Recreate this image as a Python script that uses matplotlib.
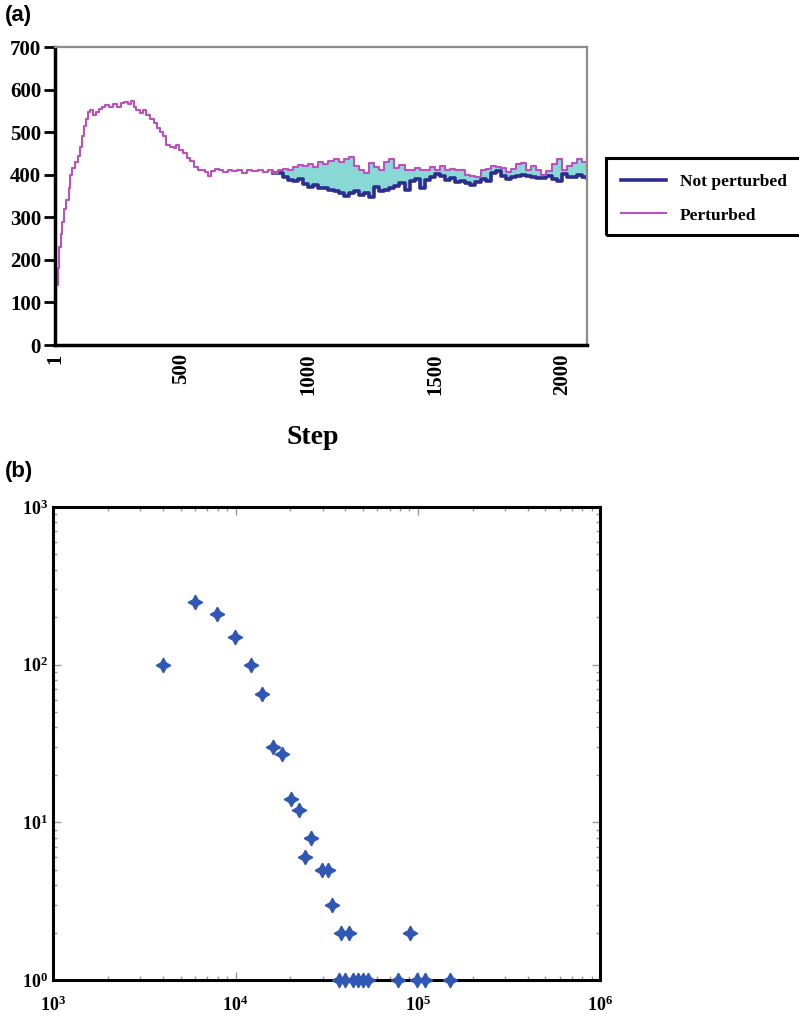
import numpy as np
import matplotlib.pyplot as plt
from matplotlib.patches import Rectangle
from matplotlib.ticker import FuncFormatter, LogLocator, NullFormatter

plt.rcParams['mathtext.fontset'] = 'custom'
plt.rcParams['mathtext.rm'] = 'Liberation Serif:bold'
plt.rcParams['mathtext.bf'] = 'Liberation Serif:bold'
plt.rcParams['mathtext.it'] = 'Liberation Serif:bold'

# (a) value per step; both runs share the same path until the perturbation
steps_early = [1, 6, 12, 18, 24, 30, 36, 45, 55, 62, 70, 80, 90, 100, 108, 116,
               124, 132, 140, 150, 162, 175, 188, 200, 215, 230, 245, 260, 275,
               290, 300, 312, 322, 335, 348, 360, 375, 390, 402, 415, 428, 440,
               455, 470, 480, 490, 505, 520, 535, 550, 565, 578, 592, 605, 618,
               632, 648, 665, 682, 700, 720, 740, 760, 780, 800, 820, 840, 860]
values_early = [90, 140, 180, 230, 260, 290, 320, 340, 370, 400, 415, 430, 445,
                465, 490, 515, 530, 548, 552, 540, 548, 555, 558, 563, 560, 565,
                560, 568, 572, 566, 574, 560, 552, 545, 552, 540, 530, 522, 510,
                500, 490, 470, 465, 462, 470, 458, 450, 440, 432, 418, 410, 412,
                406, 398, 408, 414, 410, 406, 412, 408, 410, 405, 410, 408, 412,
                406, 410, 404]

steps_late = [880, 900, 920, 940, 960, 980, 1000, 1020, 1040, 1060, 1080, 1100,
              1120, 1140, 1160, 1180, 1200, 1220, 1240, 1260, 1280, 1300, 1320,
              1340, 1360, 1380, 1400, 1420, 1440, 1460, 1480, 1500, 1520, 1540,
              1560, 1580, 1600, 1620, 1640, 1660, 1680, 1700, 1720, 1740, 1760,
              1780, 1800, 1820, 1840, 1860, 1880, 1900, 1920, 1940, 1960, 1980,
              2000, 2020, 2040, 2060, 2080, 2100]
perturbed_late = [410, 414, 412, 418, 422, 420, 426, 418, 430, 425, 432, 436,
                  430, 438, 442, 420, 412, 405, 428, 418, 410, 430, 438, 415,
                  422, 410, 412, 415, 410, 412, 418, 410, 420, 412, 414, 410,
                  412, 400, 398, 395, 412, 414, 420, 418, 415, 406, 414, 425,
                  428, 410, 420, 412, 400, 408, 425, 438, 412, 420, 428, 438,
                  430, 420]
not_perturbed_late = [405, 395, 388, 385, 390, 378, 372, 375, 368, 370, 365,
                      362, 358, 350, 356, 362, 352, 358, 348, 372, 362, 365,
                      368, 374, 380, 365, 385, 390, 370, 388, 395, 402, 396,
                      388, 392, 384, 386, 380, 376, 384, 390, 386, 404, 408,
                      398, 390, 394, 396, 400, 396, 394, 392, 392, 398, 390,
                      386, 402, 395, 394, 400, 394, 392]

step_ticks = [1, 500, 1000, 1500, 2000]

# (b) count per size, log-log
sizes = [4000, 6000, 7950, 9930, 12100, 14000, 16100, 17950, 20100, 22300,
         25900, 23900, 29700, 32100, 34000, 37900, 41800, 90600,
         36800, 39900, 44300, 47200, 50300, 53600, 78300, 98900, 109700, 150000]
counts = [100, 250, 210, 150, 100, 65, 30, 27, 14, 12,
          8, 6, 5, 5, 3, 2, 2, 2,
          1, 1, 1, 1, 1, 1, 1, 1, 1, 1]

SERIF = 'Liberation Serif'
C_NOT = '#2E2C8E'
C_PERT = '#BE4FBE'
C_FILL = '#88D8D6'

fig = plt.figure(figsize=(7.99, 10.18), dpi=100)

# ---- panel (a)
ax1 = fig.add_axes([0.0688, 0.6611, 0.6659, 0.2927])
steps = np.array(steps_early + steps_late)
pert = np.array(values_early + perturbed_late)
notp = np.array(values_early + not_perturbed_late)
# the unperturbed run only shows once the two paths split
split = len(steps_early) - 1

ax1.fill_between(steps, notp, pert, step='post', color=C_FILL, lw=0)
l_not, = ax1.step(steps[split:], notp[split:], where='post', color=C_NOT,
                  lw=2.6, label='Not perturbed')
l_pert, = ax1.step(steps, pert, where='post', color=C_PERT, lw=1.5,
                   label='Perturbed')

ax1.set_xlim(1, 2100)
ax1.set_ylim(0, 700)
ax1.set_yticks(range(0, 701, 100))
ax1.set_xticks(step_ticks)
ax1.set_xticklabels([str(s) for s in step_ticks], rotation=90)
for lab in ax1.get_xticklabels() + ax1.get_yticklabels():
    lab.set_fontfamily(SERIF)
    lab.set_fontweight('bold')
    lab.set_fontsize(15)
ax1.tick_params(axis='y', direction='out', length=8, width=2, pad=2)
ax1.tick_params(axis='x', length=0, pad=6)

for side in ('left', 'bottom'):
    ax1.spines[side].set_linewidth(2.5)
    ax1.spines[side].set_color('black')
for side in ('top', 'right'):
    ax1.spines[side].set_linewidth(1.6)
    ax1.spines[side].set_color('#8c8c8c')

fig.text(313 / 799, 1 - 437 / 1018, 'Step', family=SERIF, weight='bold',
         fontsize=20, ha='center', va='center')

# legend box sits right of the plot and runs off the figure edge
fig.patches.append(Rectangle((606 / 799, 1 - 235 / 1018), 0.26, 77 / 1018,
                             transform=fig.transFigure, fill=False,
                             edgecolor='black', lw=2.2))
fig.legend(handles=[l_not, l_pert], loc='upper left',
           bbox_to_anchor=(607 / 799, 1 - 160 / 1018), frameon=False,
           prop={'family': SERIF, 'weight': 'bold', 'size': 12.5},
           handlelength=2.6, handletextpad=0.8, labelspacing=1.0,
           borderpad=0.3)

fig.text(5 / 799, 1 - 16 / 1018, '(a)', family='Liberation Sans',
         weight='bold', fontsize=16, va='center')

# ---- panel (b)
ax2 = fig.add_axes([0.0667, 0.0373, 0.6843, 0.4647])
ax2.set_xscale('log')
ax2.set_yscale('log')
ax2.set_xlim(1e3, 1e6)
ax2.set_ylim(1, 1e3)
ax2.plot(sizes, counts, linestyle='none', marker=(4, 1, 0), ms=10.5,
         color='#2F57B3', mec='#2F57B3', clip_on=False, zorder=5)

pow_fmt = FuncFormatter(lambda v, p: r'$\mathbf{10^{%d}}$' % round(np.log10(v)))
for axis in (ax2.xaxis, ax2.yaxis):
    axis.set_major_locator(LogLocator(base=10, numticks=10))
    axis.set_minor_locator(LogLocator(base=10, subs=np.arange(2, 10), numticks=10))
    axis.set_major_formatter(pow_fmt)
    axis.set_minor_formatter(NullFormatter())
ax2.tick_params(which='both', direction='in', top=True, right=True,
                color='#9a9a9a', width=1)
ax2.tick_params(which='major', length=6, labelsize=13)
ax2.tick_params(axis='x', which='major', pad=11)
ax2.tick_params(axis='y', which='major', pad=4)
ax2.tick_params(which='minor', length=3)
for side in ax2.spines.values():
    side.set_linewidth(2.2)
    side.set_color('black')

fig.text(5 / 799, 1 - 471 / 1018, '(b)', family='Liberation Sans',
         weight='bold', fontsize=16, va='center')

fig.savefig('out.png', dpi=100)
